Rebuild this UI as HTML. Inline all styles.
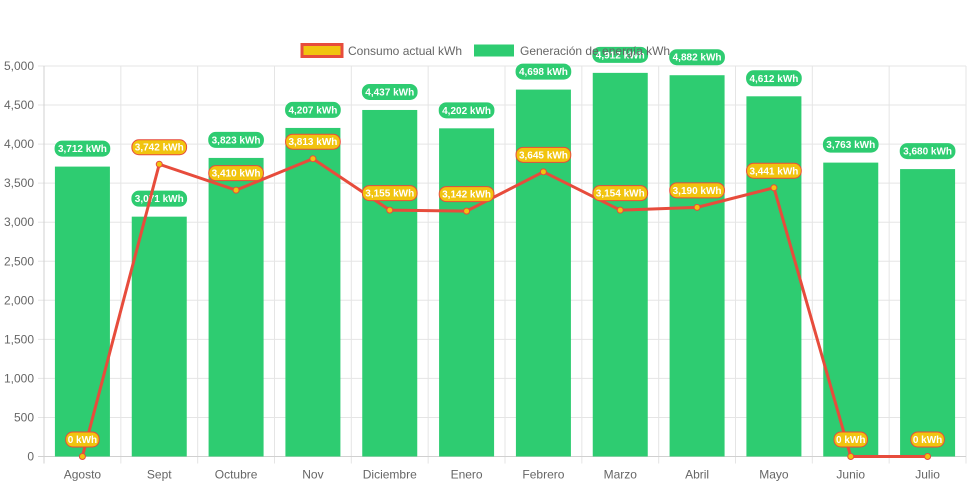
<!DOCTYPE html>
<html><head><meta charset="utf-8"><style>
html,body{margin:0;padding:0;background:#fff;}
svg{display:block;font-family:"Liberation Sans",Arial,sans-serif;}
</style></head><body>
<svg id="c" width="971" height="485" xmlns="http://www.w3.org/2000/svg"></svg>
<script>
const s=document.getElementById('c');
let h='';
const L=44,R=966,T=66,B=456.5;
const cw=(R-L)/12;
const y=v=>B-(B-T)*v/5000;
for(let v=0;v<=5000;v+=500){const yy=y(v);
h+=`<line x1="${L-6}" x2="${R}" y1="${yy}" y2="${yy}" stroke="#e5e5e5" stroke-width="1"/>`;
h+=`<text x="${L-10}" y="${yy+4}" text-anchor="end" font-size="12" fill="#666">${v.toLocaleString('en-US')}</text>`;}
for(let i=0;i<=12;i++){const xx=L+cw*i;
h+=`<line x1="${xx}" x2="${xx}" y1="${T}" y2="${B+7}" stroke="#e5e5e5" stroke-width="1"/>`;}
h+=`<line x1="${L}" x2="${L}" y1="${T}" y2="${B+7}" stroke="#d0d0d0"/>`;
h+=`<line x1="${L-6}" x2="${R}" y1="${B}" y2="${B}" stroke="#d0d0d0"/>`;
const months=["Agosto","Sept","Octubre","Nov","Diciembre","Enero","Febrero","Marzo","Abril","Mayo","Junio","Julio"];
const gen=[3712,3071,3823,4207,4437,4202,4698,4912,4882,4612,3763,3680];
const con=[0,3742,3410,3813,3155,3142,3645,3154,3190,3441,0,0];
const bw=55;
gen.forEach((v,i)=>{const cx=L+cw*(i+0.5);
h+=`<rect x="${cx-bw/2}" y="${y(v)}" width="${bw}" height="${B-y(v)}" fill="#2ecc71"/>`;
h+=`<text x="${cx}" y="${B+22}" text-anchor="middle" font-size="12" fill="#666">${months[i]}</text>`;});
function pill(cx,cy,t,bg,bd){const w=t.length*5.3+7;
return `<rect x="${cx-w/2}" y="${cy-7.5}" width="${w}" height="15" rx="7" fill="${bg}" stroke="${bd}" stroke-width="1"/><text x="${cx}" y="${cy+3.5}" text-anchor="middle" font-size="10" font-weight="bold" fill="#fff">${t}</text>`;}
gen.forEach((v,i)=>{const cx=L+cw*(i+0.5);h+=pill(cx,y(v)-18,v.toLocaleString('en-US')+' kWh','#2ecc71','#2ecc71');});
let pts=con.map((v,i)=>`${L+cw*(i+0.5)},${y(v)}`).join(' ');
h+=`<polyline points="${pts}" fill="none" stroke="#e74c3c" stroke-width="3" stroke-linejoin="round"/>`;
con.forEach((v,i)=>{const cx=L+cw*(i+0.5);h+=`<circle cx="${cx}" cy="${y(v)}" r="3" fill="#f1c40f" stroke="#e74c3c" stroke-width="1"/>`;});
con.forEach((v,i)=>{const cx=L+cw*(i+0.5);h+=pill(cx,y(v)-17,v.toLocaleString('en-US')+' kWh','#f1c40f','#e74c3c');});
h+=`<rect x="302" y="44.5" width="40" height="12" fill="#f1c40f" stroke="#e74c3c" stroke-width="3"/>`;
h+=`<text x="348" y="55" font-size="12" fill="#666">Consumo actual kWh</text>`;
h+=`<rect x="474" y="44.5" width="40" height="12" fill="#2ecc71"/>`;
h+=`<text x="520" y="55" font-size="12" fill="#666">Generación de energía kWh</text>`;
s.innerHTML=h;
</script>
</body></html>
